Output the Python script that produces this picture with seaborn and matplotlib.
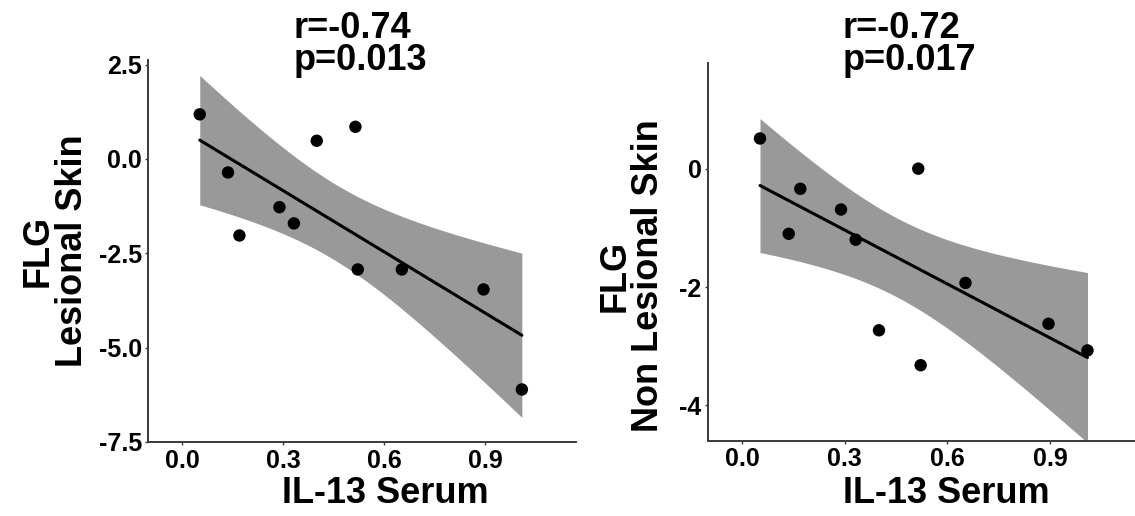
import numpy as np
import pandas as pd
import matplotlib
matplotlib.use("Agg")
import matplotlib.pyplot as plt
import seaborn as sns

# ---- data ----
il13_serum = [0.052, 0.136, 0.170, 0.289, 0.332, 0.400, 0.515, 0.522, 0.653, 0.896, 1.010]
flg_lesional = [1.18, -0.36, -2.03, -1.28, -1.71, 0.48, 0.85, -2.93, -2.93, -3.46, -6.11]
flg_nonlesional = [0.51, -1.10, -0.34, -0.69, -1.20, -2.73, 0.00, -3.32, -1.93, -2.62, -3.07]

stat_left = ["r=-0.74", "p=0.013"]
stat_right = ["r=-0.72", "p=0.017"]
xlabel = "IL-13 Serum"
ylabel_left = "FLG\nLesional Skin"
ylabel_right = "FLG\nNon Lesional Skin"
xticks = [0.0, 0.3, 0.6, 0.9]
xticklabels = ["0.0", "0.3", "0.6", "0.9"]
yticks_left = [2.5, 0.0, -2.5, -5.0, -7.5]
yticklabels_left = ["2.5", "0.0", "-2.5", "-5.0", "-7.5"]
yticks_right = [0, -2, -4]
yticklabels_right = ["0", "-2", "-4"]

T_CRIT_95_DF9 = 2.262  # t quantile for 95% CI with n-2 = 9 df

sns.set_theme(style="ticks")
plt.rcParams["font.family"] = ["Liberation Sans", "DejaVu Sans"]

fig = plt.figure(figsize=(11.35, 5.16), dpi=100)
W, H = 1135, 516

def px_axes(x0, x1, ytop, ybot):
    return fig.add_axes([x0 / W, 1 - ybot / H, (x1 - x0) / W, (ybot - ytop) / H])

ax1 = px_axes(148.3, 576, 60, 442.3)
ax2 = px_axes(707.7, 1135, 62.7, 441)

BAND = "#999999"
SPINE = "#3a3a3a"


def draw(ax, x, y):
    df = pd.DataFrame({"x": x, "y": y})
    xs = np.array(x, dtype=float)
    ys = np.array(y, dtype=float)
    n = len(xs)
    b, a = np.polyfit(xs, ys, 1)
    resid = ys - (a + b * xs)
    s = np.sqrt(np.sum(resid ** 2) / (n - 2))
    grid = np.linspace(xs.min(), xs.max(), 200)
    se = s * np.sqrt(1 / n + (grid - xs.mean()) ** 2 / np.sum((xs - xs.mean()) ** 2))
    fit = a + b * grid
    ax.fill_between(grid, fit - T_CRIT_95_DF9 * se, fit + T_CRIT_95_DF9 * se,
                    color=BAND, linewidth=0, zorder=1)
    sns.regplot(data=df, x="x", y="y", ax=ax, ci=None, truncate=True,
                scatter_kws=dict(s=80, color="black", edgecolors="none", zorder=3, alpha=1),
                line_kws=dict(color="black", linewidth=2.2, zorder=2))


draw(ax1, il13_serum, flg_lesional)
draw(ax2, il13_serum, flg_nonlesional)

ax1.set_xlim(-0.101, 1.171)
ax1.set_ylim(-7.51, 2.62)
ax2.set_xlim(-0.101, 1.149)
ax2.set_ylim(-4.60, 1.79)

for ax, yt, ytl in [(ax1, yticks_left, yticklabels_left), (ax2, yticks_right, yticklabels_right)]:
    ax.set_xticks(xticks)
    ax.set_xticklabels(xticklabels)
    ax.set_yticks(yt)
    ax.set_yticklabels(ytl)
    for side in ["top", "right"]:
        ax.spines[side].set_visible(False)
    for side in ["left", "bottom"]:
        ax.spines[side].set_color(SPINE)
        ax.spines[side].set_linewidth(1.4)
    ax.tick_params(axis="both", length=2.5, width=1.0, color=SPINE, pad=2,
                   labelsize=18, labelcolor="black")
    for lab in ax.get_xticklabels() + ax.get_yticklabels():
        lab.set_fontweight("bold")
    ax.set_facecolor("white")
    ax.set_xlabel(xlabel, fontsize=26, fontweight="bold", color="black")

ax1.set_ylabel(ylabel_left, fontsize=26, fontweight="bold", color="black", linespacing=0.95)
ax2.set_ylabel(ylabel_right, fontsize=26, fontweight="bold", color="black", linespacing=0.95)

# label positions (axes fraction); xlabel text box top ~476 px
ax1.xaxis.set_label_coords(0.555, (442.3 - 476) / 382.3)
ax2.xaxis.set_label_coords(0.558, (441 - 476) / 378.3)
ax1.yaxis.set_label_coords(-0.137, 0.5)
ax2.yaxis.set_label_coords(-0.0976, 0.436)

# correlation annotations (two left-aligned lines)
for ax, lines, x0, ytop, ybot, xl, xr in [
    (ax1, stat_left, 293.3, 60, 442.3, 148.3, 576),
    (ax2, stat_right, 842.8, 62.7, 441, 707.7, 1135),
]:
    hgt = ybot - ytop
    xf = (x0 - xl) / (xr - xl)
    ax.text(xf, (ybot - 38) / hgt, lines[0], transform=ax.transAxes, ha="left",
            va="baseline", fontsize=26, fontweight="bold", color="black", clip_on=False)
    ax.text(xf, (ybot - 70) / hgt, lines[1], transform=ax.transAxes, ha="left",
            va="baseline", fontsize=26, fontweight="bold", color="black", clip_on=False)

fig.savefig("out.png", dpi=100, facecolor="white")
